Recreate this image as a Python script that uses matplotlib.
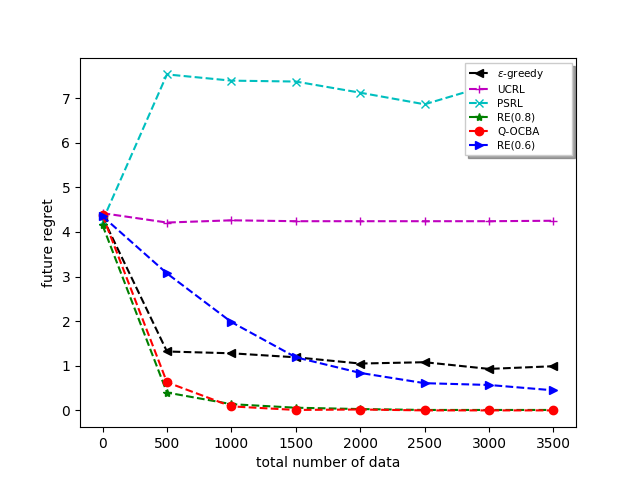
import matplotlib
matplotlib.use("Agg")
from matplotlib import pyplot as plt

n_data = [0, 500, 1000, 1500, 2000, 2500, 3000, 3500]

eps_greedy = [4.33, 1.32, 1.28, 1.19, 1.05, 1.08, 0.93, 0.99]
ucrl = [4.42, 4.21, 4.26, 4.24, 4.24, 4.24, 4.24, 4.25]
psrl = [4.25, 7.53, 7.39, 7.37, 7.12, 6.86, 7.29, 7.45]
re_08 = [4.15, 0.40, 0.14, 0.06, 0.03, 0.01, 0.01, 0.01]
q_ocba = [4.37, 0.63, 0.09, 0.01, 0.02, 0.0, 0.0, 0.0]
re_06 = [4.35, 3.07, 1.98, 1.19, 0.84, 0.61, 0.57, 0.45]

fig, ax = plt.subplots()

ax.plot(n_data, eps_greedy, 'k--', marker='<', label=r'$\epsilon$-greedy')
ax.plot(n_data, ucrl, 'm--', marker='+', label='UCRL')
ax.plot(n_data, psrl, 'c--', marker='x', label='PSRL')
ax.plot(n_data, re_08, 'g--', marker='*', label='RE(0.8)')
ax.plot(n_data, q_ocba, 'r--', marker='o', label='Q-OCBA')
ax.plot(n_data, re_06, 'b--', marker='>', label='RE(0.6)')

ax.set_xlabel('total number of data')
ax.set_ylabel('future regret')
# legend box is wider than its labels in the original, so stretch it
ax.legend(loc='upper right', bbox_to_anchor=(0.766, 0.0, 0.236, 1.0), mode='expand',
          fontsize=7.5, shadow=True, framealpha=1, fancybox=False, labelspacing=0.38,
          handlelength=1.9)

fig.savefig('out.png')
